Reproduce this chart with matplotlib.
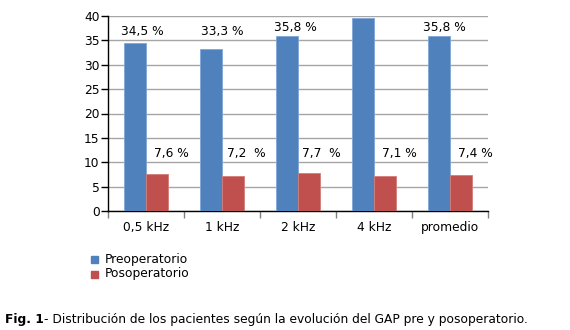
import matplotlib
matplotlib.use("Agg")
import matplotlib.pyplot as plt
import numpy as np
from matplotlib.patches import Rectangle

categories = ["0,5 kHz", "1 kHz", "2 kHz", "4 kHz", "promedio"]
pre_values = [34.5, 33.3, 35.8, 39.5, 35.8]
pos_values = [7.6, 7.2, 7.7, 7.1, 7.4]
pre_labels = ["34,5 %", "33,3 %", "35,8 %", None, "35,8 %"]
pos_labels = ["7,6 %", "7,2  %", "7,7  %", "7,1 %", "7,4 %"]
series_names = ["Preoperatorio", "Posoperatorio"]
yticks = [0, 5, 10, 15, 20, 25, 30, 35, 40]

BLUE = "#4F81BD"
RED = "#C0504D"
FS = 8.8

W, H = 570, 330
fig = plt.figure(figsize=(W / 100, H / 100), dpi=100)
# axes box in pixels: x 108..488, y 16..211 (from top)
ax = fig.add_axes([108 / W, 1 - 211 / H, 380 / W, 195 / H])

x = np.arange(len(categories))
bw = 0.285
ax.bar(x - bw / 2, pre_values, bw, color=BLUE, edgecolor="#7FA6D6", linewidth=0.6, zorder=3)
ax.bar(x + bw / 2, pos_values, bw, color=RED, edgecolor="#D47C7A", linewidth=0.6, zorder=3)

ax.set_xlim(-0.5, len(categories) - 0.5)
ax.set_ylim(0, 40)
ax.set_yticks(yticks)
ax.tick_params(axis="y", labelsize=FS, length=5, width=1, pad=1, colors="black")
ax.yaxis.grid(True, color="#A6A6A6", linewidth=1, zorder=0)
ax.set_axisbelow(True)

# category ticks at boundaries, labels at centres
ax.set_xticks(np.arange(len(categories) + 1) - 0.5)
ax.set_xticklabels([""] * (len(categories) + 1))
ax.tick_params(axis="x", length=5, width=1, color="#808080")
ax.set_xticks(x, minor=True)
ax.set_xticklabels(categories, minor=True, fontsize=FS)
ax.tick_params(axis="x", which="minor", length=0, pad=7)

for s in ["top", "right"]:
    ax.spines[s].set_visible(False)
ax.spines["left"].set_linewidth(1)
ax.spines["bottom"].set_linewidth(1)

# data labels
pre_label_y = [36.9, 36.9, 37.7, None, 37.7]
pre_label_dx = [-0.05, 0.0, -0.03, 0, -0.07]
for i, lab in enumerate(pre_labels):
    if lab:
        ax.text(i + pre_label_dx[i], pre_label_y[i], lab, ha="center", va="center", fontsize=FS)
pos_label_dx = [0.33, 0.32, 0.31, 0.33, 0.33]
for i, lab in enumerate(pos_labels):
    ax.text(i + pos_label_dx[i], 11.7, lab, ha="center", va="center", fontsize=FS)

# legend
for j, (name, col) in enumerate(zip(series_names, [BLUE, RED])):
    yc = 259 + j * 15
    fig.patches.append(Rectangle((91 / W, 1 - (yc + 3.5) / H), 7 / W, 7 / H,
                                 transform=fig.transFigure, color=col))
    fig.text(105 / W, 1 - yc / H, name, fontsize=FS, va="center", ha="left")

# caption
t1 = fig.text(5 / W, 1 - 319 / H, "Fig. 1", fontsize=FS, fontweight="bold", va="center", ha="left")
fig.canvas.draw()
bb = t1.get_window_extent()
fig.text(bb.x1 / W, 1 - 319 / H,
         "- Distribución de los pacientes según la evolución del GAP pre y posoperatorio.",
         fontsize=FS, va="center", ha="left")

fig.savefig("out.png", dpi=100)
